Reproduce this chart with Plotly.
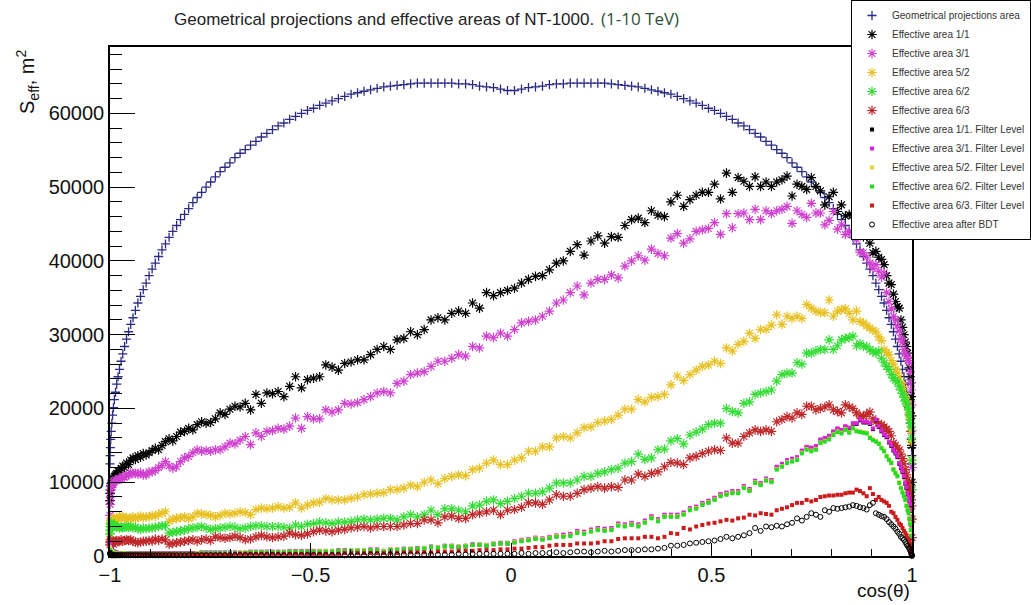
import numpy as np
import plotly.graph_objects as go

# 180 one-degree bins in theta, plotted against cos(theta) (bin centres)
theta_centres_deg = np.arange(179.5, 0.0, -1.0)
cos_theta = np.cos(np.radians(theta_centres_deg))

# ---- values, in thousands of m^2 ----
geom_area = [
    12.5, 13.6, 14.7, 15.8, 16.9, 18.0, 19.1, 20.1, 21.2, 22.2,
    23.3, 24.3, 25.3, 26.4, 27.4, 28.4, 29.4, 30.4, 31.4, 32.3,
    33.3, 34.3, 35.2, 36.1, 37.0, 38.0, 38.9, 39.7, 40.6, 41.5,
    42.3, 43.2, 44.0, 44.8, 45.6, 46.3, 47.1, 47.9, 48.6, 49.3,
    50.0, 50.7, 51.4, 52.1, 52.7, 53.3, 54.0, 54.6, 55.1, 55.7,
    56.2, 56.8, 57.3, 57.8, 58.3, 58.7, 59.2, 59.6, 60.0, 60.4,
    60.7, 61.1, 61.4, 61.7, 62.0, 62.3, 62.6, 62.8, 63.0, 63.2,
    63.4, 63.6, 63.7, 63.8, 63.9, 64.0, 64.1, 64.1, 64.1, 64.1,
    64.1, 64.1, 64.0, 64.0, 63.9, 63.7, 63.6, 63.5, 63.3, 63.1,
    63.1, 63.3, 63.5, 63.6, 63.7, 63.9, 64.0, 64.0, 64.1, 64.1,
    64.1, 64.1, 64.1, 64.1, 64.0, 63.9, 63.8, 63.7, 63.6, 63.4,
    63.2, 63.0, 62.8, 62.6, 62.3, 62.0, 61.7, 61.4, 61.1, 60.7,
    60.4, 60.0, 59.6, 59.2, 58.7, 58.3, 57.8, 57.3, 56.8, 56.2,
    55.7, 55.1, 54.6, 54.0, 53.3, 52.7, 52.1, 51.4, 50.7, 50.0,
    49.3, 48.6, 47.9, 47.1, 46.3, 45.6, 44.8, 44.0, 43.2, 42.3,
    41.5, 40.6, 39.7, 38.9, 38.0, 37.0, 36.1, 35.2, 34.3, 33.3,
    32.3, 31.4, 30.4, 29.4, 28.4, 27.4, 26.4, 25.3, 24.3, 23.3,
    22.2, 21.2, 20.1, 19.1, 18.0, 16.9, 15.8, 14.7, 13.6, 12.5,
]

eff_1_1 = [
    7.5, 8.5, 9.0, 9.5, 9.8, 10.0, 10.3, 10.5, 10.8, 11.0,
    11.2, 11.5, 11.3, 11.9, 12.2, 12.0, 12.6, 12.4, 13.0, 13.3,
    13.1, 13.6, 13.4, 13.9, 13.7, 14.0, 14.3, 14.6, 14.4, 15.0,
    15.5, 15.9, 15.6, 16.2, 16.8, 16.9, 17.3, 17.1, 17.8, 18.2,
    18.0, 18.1, 18.6, 19.4, 19.2, 19.9, 20.3, 20.2, 20.7, 19.8,
    21.9, 20.7, 22.1, 22.0, 22.3, 21.6, 23.0, 24.3, 22.8, 23.9,
    24.1, 24.3, 25.9, 25.6, 25.2, 26.1, 26.3, 26.6, 26.6, 27.3,
    28.0, 28.4, 28.0, 29.3, 29.5, 30.4, 30.0, 30.7, 32.0, 32.3,
    32.0, 32.9, 33.2, 32.9, 34.3, 33.6, 35.7, 35.3, 35.7, 36.0,
    36.3, 37.0, 37.5, 37.9, 38.0, 38.8, 39.7, 40.0, 41.3, 42.2,
    40.8, 42.7, 43.4, 42.4, 43.3, 43.2, 44.8, 45.6, 45.8, 45.2,
    46.8, 46.2, 46.0, 48.0, 48.9, 47.4, 48.3, 48.9, 49.3, 49.3,
    50.4, 48.4, 51.9, 49.3, 51.3, 50.8, 50.1, 51.4, 50.1, 50.7,
    50.1, 50.7, 51.0, 51.5, 48.8, 50.4, 50.1, 49.7, 51.3, 50.1,
    49.5, 47.6, 48.7, 49.3, 46.7, 47.6, 46.1, 46.3, 46.2, 44.9,
    44.9, 43.3, 43.3, 42.4, 41.1, 41.3, 40.5, 40.2, 39.5, 38.0,
    37.0, 36.8, 35.5, 34.5, 33.8, 33.6, 32.0, 31.0, 30.0, 29.0,
    28.4, 27.5, 26.5, 25.5, 24.3, 23.5, 21.6, 19.0, 15.0, 10.0,
]

eff_3_1 = [
    5.5, 7.0, 8.0, 9.0, 9.5, 9.3, 9.8, 10.0, 10.1, 10.3,
    10.2, 10.4, 10.5, 10.4, 10.8, 10.7, 10.9, 11.0, 11.3, 11.2,
    11.2, 11.1, 11.3, 11.0, 11.0, 11.4, 11.4, 11.6, 12.0, 12.3,
    12.8, 12.2, 11.9, 12.1, 12.8, 13.3, 13.5, 14.0, 14.4, 14.2,
    14.3, 14.2, 14.4, 14.4, 14.8, 15.3, 15.2, 15.7, 16.2, 15.1,
    16.7, 16.2, 16.9, 17.0, 17.3, 17.2, 17.6, 18.7, 17.3, 18.9,
    18.6, 18.6, 19.8, 19.5, 19.8, 20.7, 20.6, 20.8, 21.2, 21.6,
    22.1, 22.3, 22.1, 23.4, 23.7, 24.6, 24.8, 25.0, 25.7, 26.4,
    26.4, 26.8, 27.3, 27.1, 28.4, 28.2, 29.8, 29.6, 30.2, 29.8,
    30.7, 31.6, 31.8, 32.0, 32.5, 33.2, 34.3, 34.7, 35.7, 36.6,
    35.4, 37.0, 37.5, 37.5, 38.1, 37.7, 39.3, 40.0, 40.7, 40.1,
    41.6, 41.0, 40.7, 43.1, 43.7, 42.4, 43.0, 44.0, 44.2, 44.4,
    45.2, 43.6, 46.4, 44.5, 46.4, 46.5, 45.6, 47.0, 45.6, 46.8,
    46.4, 46.8, 47.0, 47.4, 45.1, 46.8, 46.3, 45.9, 47.8, 46.5,
    46.5, 44.9, 45.5, 46.7, 44.3, 44.9, 43.6, 44.0, 43.5, 42.9,
    41.2, 41.1, 40.5, 39.7, 39.0, 39.5, 38.6, 37.8, 38.4, 35.7,
    34.5, 33.5, 32.5, 32.0, 31.2, 30.5, 29.5, 29.0, 28.0, 27.5,
    27.1, 26.8, 26.5, 26.2, 25.0, 23.5, 22.5, 20.5, 17.0, 12.0,
]

eff_5_2 = [
    3.0, 4.0, 4.5, 4.8, 4.9, 5.0, 4.9, 4.8, 5.1, 4.9,
    5.2, 5.0, 5.3, 5.2, 5.3, 5.1, 5.2, 5.0, 5.1, 5.3,
    5.1, 5.2, 5.4, 5.2, 5.3, 5.3, 5.5, 5.4, 5.7, 5.8,
    6.0, 4.7, 5.0, 5.1, 5.2, 5.3, 5.1, 5.3, 5.8, 5.7,
    5.6, 5.5, 5.3, 5.5, 5.8, 5.7, 5.8, 6.0, 5.9, 5.6,
    6.3, 6.5, 6.4, 6.5, 6.7, 6.5, 6.6, 7.2, 6.5, 6.9,
    7.2, 7.3, 7.8, 7.6, 7.6, 7.6, 7.8, 8.0, 8.3, 8.4,
    8.5, 8.6, 9.0, 9.0, 9.2, 9.6, 9.4, 10.0, 10.3, 9.8,
    10.5, 10.8, 11.0, 10.9, 11.7, 11.9, 12.6, 13.0, 12.4, 12.4,
    13.0, 13.3, 14.2, 14.2, 14.8, 14.8, 16.0, 16.2, 16.0, 16.7,
    17.4, 17.5, 18.1, 18.3, 18.5, 19.1, 19.9, 19.9, 21.2, 20.9,
    21.5, 21.6, 21.9, 23.2, 24.4, 23.8, 24.6, 25.2, 25.7, 25.9,
    26.4, 26.1, 28.2, 27.8, 28.7, 29.1, 30.2, 29.5, 30.7, 30.7,
    31.3, 32.7, 31.4, 32.5, 32.2, 32.5, 32.2, 34.1, 33.6, 33.2,
    33.0, 33.0, 34.7, 32.5, 33.2, 33.4, 33.5, 32.9, 32.0, 33.2,
    31.8, 31.6, 31.2, 30.9, 30.6, 30.4, 29.7, 29.2, 28.0, 27.6,
    27.3, 26.5, 26.0, 25.3, 24.8, 24.2, 23.5, 23.0, 22.5, 21.6,
    21.0, 20.4, 19.8, 19.0, 18.5, 17.0, 15.5, 13.0, 9.0, 5.0,
]

eff_6_2 = [
    3.0, 3.5, 4.0, 4.3, 4.5, 4.3, 4.0, 4.2, 4.0, 4.1,
    3.9, 4.0, 3.8, 3.9, 3.8, 3.9, 4.0, 3.9, 4.0, 3.8,
    3.9, 3.7, 3.6, 3.8, 3.7, 3.8, 3.8, 3.9, 4.0, 4.1,
    4.1, 3.1, 3.2, 3.3, 3.4, 3.5, 3.7, 3.8, 3.9, 4.0,
    3.8, 3.6, 3.7, 3.8, 3.9, 4.0, 3.9, 3.7, 3.8, 4.0,
    4.1, 4.1, 4.0, 4.0, 4.0, 3.9, 3.8, 4.2, 4.0, 4.3,
    4.4, 4.6, 4.5, 4.4, 4.6, 4.6, 4.7, 4.9, 5.0, 4.9,
    5.0, 5.1, 5.1, 4.9, 5.3, 5.6, 5.3, 5.6, 6.2, 5.6,
    6.4, 6.4, 6.2, 6.0, 6.8, 6.9, 7.4, 7.6, 7.1, 7.4,
    7.8, 8.1, 8.5, 8.5, 8.7, 9.2, 9.9, 9.9, 9.9, 10.3,
    10.8, 10.8, 11.2, 11.4, 11.7, 11.9, 12.6, 12.8, 13.8, 13.1,
    13.3, 14.4, 14.5, 15.6, 15.9, 15.2, 16.4, 16.8, 17.2, 17.8,
    18.0, 18.0, 20.0, 19.6, 19.4, 20.7, 20.9, 21.9, 22.1, 22.3,
    22.5, 23.7, 24.6, 24.8, 24.8, 26.2, 26.0, 27.5, 27.5, 27.8,
    28.0, 28.0, 29.3, 28.0, 28.5, 29.3, 29.5, 29.6, 29.8, 28.5,
    28.8, 28.4, 28.4, 28.0, 27.7, 27.5, 27.8, 26.8, 26.2, 25.7,
    25.3, 24.6, 24.1, 23.8, 23.6, 23.0, 22.5, 22.0, 21.5, 21.0,
    20.7, 20.3, 19.8, 19.2, 18.5, 18.0, 17.5, 16.0, 13.0, 9.0,
]

eff_6_3 = [
    1.5, 1.8, 2.0, 2.2, 1.9, 1.8, 1.7, 1.6, 1.9, 2.0,
    2.1, 1.9, 2.0, 2.2, 2.0, 2.1, 2.2, 2.1, 2.2, 2.0,
    1.9, 1.8, 1.9, 2.0, 2.0, 2.1, 2.0, 2.3, 2.1, 2.3,
    2.2, 1.6, 1.7, 1.8, 1.9, 2.0, 2.1, 2.2, 2.0, 2.2,
    2.3, 2.1, 2.6, 2.5, 2.4, 2.5, 2.7, 2.5, 2.2, 2.3,
    2.6, 2.8, 2.6, 2.5, 2.6, 2.7, 3.1, 2.9, 2.8, 3.0,
    3.3, 3.5, 3.4, 3.3, 3.5, 3.6, 3.8, 3.9, 4.0, 3.8,
    4.0, 4.0, 4.0, 4.0, 4.2, 4.4, 4.4, 4.9, 4.9, 4.5,
    5.3, 5.4, 5.1, 5.1, 5.6, 5.8, 6.0, 6.2, 5.6, 6.2,
    6.3, 6.6, 7.2, 7.2, 7.0, 7.6, 8.3, 8.1, 8.1, 8.5,
    9.0, 9.2, 9.4, 9.2, 9.4, 9.3, 10.3, 10.3, 11.1, 10.8,
    11.2, 11.4, 12.1, 12.7, 12.6, 12.4, 13.3, 13.5, 13.9, 14.2,
    14.4, 14.3, 16.0, 15.3, 15.3, 16.2, 16.7, 17.1, 16.9, 17.1,
    16.9, 18.2, 18.5, 18.9, 18.7, 19.4, 19.2, 20.3, 20.3, 19.8,
    20.0, 20.2, 20.5, 19.8, 19.6, 19.4, 20.5, 20.2, 20.0, 19.4,
    19.0, 18.9, 19.2, 19.5, 18.6, 18.2, 18.0, 17.8, 17.5, 17.2,
    16.9, 16.3, 15.3, 15.0, 14.6, 14.4, 13.8, 13.2, 12.5, 11.7,
    11.0, 10.3, 9.8, 9.2, 8.7, 8.2, 7.6, 6.8, 5.0, 2.5,
]

filt_1_1 = [
    1.7, 1.4, 1.1, 0.9, 0.8, 0.7, 0.6, 0.5, 0.5, 0.4,
    0.4, 0.4, 0.4, 0.4, 0.4, 0.4, 0.4, 0.4, 0.4, 0.4,
    0.4, 0.4, 0.4, 0.4, 0.4, 0.4, 0.4, 0.4, 0.4, 0.4,
    0.4, 0.4, 0.4, 0.4, 0.4, 0.4, 0.4, 0.4, 0.4, 0.4,
    0.4, 0.4, 0.4, 0.4, 0.4, 0.4, 0.4, 0.4, 0.4, 0.5,
    0.5, 0.5, 0.5, 0.5, 0.5, 0.5, 0.6, 0.6, 0.6, 0.6,
    0.6, 0.6, 0.6, 0.6, 0.7, 0.7, 0.7, 0.7, 0.7, 0.8,
    0.8, 0.6, 0.8, 0.8, 0.9, 0.9, 1.0, 1.0, 1.2, 1.1,
    1.3, 1.3, 1.2, 1.3, 1.5, 1.5, 1.4, 1.6, 1.7, 1.7,
    1.9, 2.1, 2.2, 2.4, 2.3, 2.5, 2.7, 2.8, 2.9, 3.3,
    3.2, 3.5, 3.7, 3.6, 3.7, 4.3, 4.2, 4.4, 4.2, 4.7,
    5.3, 4.9, 5.5, 5.5, 5.5, 5.8, 6.4, 6.6, 7.1, 7.4,
    7.8, 8.3, 8.5, 8.7, 8.7, 9.4, 9.0, 10.1, 9.8, 10.4,
    10.2, 12.0, 12.4, 12.9, 13.1, 13.3, 14.2, 14.7, 14.6, 14.8,
    15.7, 15.9, 16.2, 16.8, 17.2, 17.0, 17.5, 17.3, 17.9, 17.9,
    18.4, 18.1, 18.1, 17.9, 17.2, 18.4, 17.5, 16.9, 16.4, 16.1,
    15.4, 14.9, 14.3, 13.9, 13.4, 12.5, 11.9, 11.4, 10.7, 9.8,
    9.2, 8.4, 7.9, 7.4, 6.9, 6.1, 5.1, 3.9, 2.4, 0.9,
]

filt_3_1 = [
    1.8, 1.5, 1.2, 1.0, 0.9, 0.8, 0.7, 0.6, 0.6, 0.5,
    0.5, 0.4, 0.4, 0.4, 0.4, 0.4, 0.4, 0.4, 0.4, 0.4,
    0.4, 0.4, 0.4, 0.4, 0.4, 0.4, 0.4, 0.4, 0.4, 0.4,
    0.4, 0.4, 0.4, 0.4, 0.4, 0.4, 0.4, 0.4, 0.4, 0.5,
    0.5, 0.5, 0.5, 0.5, 0.5, 0.5, 0.5, 0.5, 0.5, 0.6,
    0.6, 0.6, 0.6, 0.6, 0.6, 0.6, 0.7, 0.7, 0.7, 0.7,
    0.7, 0.7, 0.7, 0.7, 0.8, 0.8, 0.8, 0.8, 0.8, 0.9,
    0.9, 0.7, 0.9, 0.9, 1.0, 1.0, 1.1, 1.1, 1.3, 1.2,
    1.4, 1.4, 1.3, 1.4, 1.6, 1.6, 1.5, 1.7, 1.8, 1.8,
    2.0, 2.2, 2.3, 2.5, 2.4, 2.6, 2.8, 2.9, 3.0, 3.4,
    3.3, 3.6, 3.8, 3.7, 3.8, 4.4, 4.3, 4.5, 4.3, 4.8,
    5.4, 5.0, 5.6, 5.6, 5.6, 5.9, 6.5, 6.7, 7.2, 7.5,
    7.9, 8.4, 8.6, 8.8, 8.8, 9.5, 9.1, 10.2, 9.9, 10.5,
    10.3, 12.1, 12.5, 13.0, 13.2, 13.4, 14.3, 14.8, 14.7, 14.9,
    15.8, 16.0, 16.3, 16.9, 17.3, 17.1, 17.6, 17.4, 18.0, 18.0,
    18.5, 18.2, 18.2, 18.0, 17.3, 18.5, 17.6, 17.0, 16.5, 16.2,
    15.5, 15.0, 14.4, 14.0, 13.5, 12.6, 12.0, 11.5, 10.8, 9.9,
    9.3, 8.5, 8.0, 7.5, 7.0, 6.2, 5.2, 4.0, 2.5, 1.0,
]

filt_5_2 = [
    1.2, 1.0, 0.9, 0.8, 0.7, 0.6, 0.5, 0.5, 0.4, 0.4,
    0.4, 0.3, 0.3, 0.3, 0.3, 0.4, 0.3, 0.3, 0.3, 0.3,
    0.3, 0.3, 0.3, 0.3, 0.3, 0.3, 0.3, 0.3, 0.3, 0.3,
    0.3, 0.3, 0.3, 0.3, 0.3, 0.3, 0.3, 0.3, 0.4, 0.4,
    0.4, 0.4, 0.4, 0.4, 0.4, 0.4, 0.4, 0.5, 0.5, 0.5,
    0.5, 0.5, 0.5, 0.5, 0.5, 0.6, 0.6, 0.6, 0.6, 0.6,
    0.6, 0.7, 0.7, 0.7, 0.7, 0.7, 0.8, 0.8, 0.8, 0.8,
    0.8, 0.7, 0.9, 0.9, 0.9, 1.0, 1.0, 1.1, 1.2, 1.2,
    1.3, 1.4, 1.3, 1.4, 1.5, 1.6, 1.5, 1.7, 1.7, 1.8,
    1.9, 2.1, 2.2, 2.4, 2.3, 2.5, 2.7, 2.7, 2.8, 3.2,
    3.1, 3.4, 3.6, 3.5, 3.6, 4.2, 4.1, 4.3, 4.1, 4.6,
    5.2, 4.8, 5.4, 5.4, 5.4, 5.7, 6.3, 6.5, 7.0, 7.3,
    7.7, 8.2, 8.4, 8.6, 8.6, 9.3, 8.9, 10.0, 9.7, 10.3,
    10.1, 11.8, 12.2, 12.7, 12.9, 13.1, 14.0, 14.5, 14.3, 14.5,
    15.4, 15.6, 15.9, 16.5, 16.9, 16.7, 17.2, 16.8, 17.4, 17.0,
    16.9, 16.8, 16.7, 16.1, 15.8, 15.6, 15.3, 14.7, 14.3, 13.6,
    13.1, 12.7, 11.8, 11.3, 10.9, 10.0, 9.3, 8.7, 8.2, 7.7,
    6.9, 6.3, 5.9, 5.1, 4.4, 3.6, 2.8, 1.8, 0.9, 0.4,
]

filt_6_2 = [
    0.8, 0.7, 0.6, 0.5, 0.5, 0.4, 0.4, 0.4, 0.3, 0.3,
    0.3, 0.3, 0.3, 0.3, 0.3, 0.3, 0.3, 0.3, 0.3, 0.3,
    0.3, 0.3, 0.3, 0.3, 0.3, 0.3, 0.3, 0.3, 0.3, 0.3,
    0.3, 0.3, 0.3, 0.3, 0.3, 0.3, 0.3, 0.3, 0.3, 0.4,
    0.4, 0.4, 0.4, 0.4, 0.4, 0.4, 0.4, 0.4, 0.4, 0.5,
    0.5, 0.5, 0.5, 0.5, 0.5, 0.5, 0.6, 0.6, 0.6, 0.6,
    0.6, 0.6, 0.6, 0.6, 0.7, 0.7, 0.7, 0.7, 0.7, 0.8,
    0.8, 0.6, 0.8, 0.8, 0.9, 0.9, 1.0, 1.0, 1.2, 1.1,
    1.3, 1.3, 1.2, 1.3, 1.5, 1.5, 1.4, 1.6, 1.7, 1.7,
    1.8, 2.0, 2.1, 2.3, 2.2, 2.4, 2.6, 2.6, 2.7, 3.1,
    3.0, 3.3, 3.5, 3.4, 3.5, 4.1, 4.0, 4.2, 4.0, 4.5,
    5.1, 4.7, 5.3, 5.3, 5.3, 5.6, 6.2, 6.4, 6.9, 7.2,
    7.6, 8.1, 8.3, 8.5, 8.5, 9.2, 8.8, 9.9, 9.6, 10.2,
    10.0, 11.7, 12.1, 12.6, 12.8, 13.0, 13.9, 14.4, 14.2, 14.4,
    15.3, 15.5, 15.8, 16.4, 16.8, 16.6, 17.1, 16.7, 17.3, 16.9,
    16.8, 16.7, 16.6, 16.0, 15.7, 15.5, 15.2, 14.6, 14.2, 13.5,
    13.0, 12.6, 11.7, 11.2, 10.8, 9.9, 9.2, 8.6, 8.1, 7.6,
    6.8, 6.2, 5.8, 5.0, 4.3, 3.5, 2.7, 1.7, 0.8, 0.3,
]

filt_6_3 = [
    0.5, 0.4, 0.3, 0.3, 0.2, 0.2, 0.2, 0.2, 0.2, 0.2,
    0.2, 0.2, 0.2, 0.2, 0.2, 0.2, 0.2, 0.2, 0.2, 0.2,
    0.2, 0.2, 0.2, 0.2, 0.2, 0.2, 0.2, 0.2, 0.2, 0.2,
    0.2, 0.2, 0.2, 0.2, 0.2, 0.2, 0.2, 0.2, 0.2, 0.2,
    0.2, 0.2, 0.2, 0.2, 0.2, 0.2, 0.3, 0.3, 0.3, 0.3,
    0.3, 0.3, 0.3, 0.3, 0.3, 0.3, 0.3, 0.3, 0.3, 0.3,
    0.3, 0.3, 0.3, 0.3, 0.3, 0.4, 0.4, 0.4, 0.4, 0.4,
    0.4, 0.4, 0.4, 0.4, 0.5, 0.5, 0.5, 0.5, 0.5, 0.6,
    0.6, 0.6, 0.7, 0.7, 0.7, 0.8, 0.8, 0.8, 0.9, 0.9,
    1.0, 1.0, 1.1, 1.2, 1.2, 1.4, 1.5, 1.5, 1.5, 1.7,
    1.7, 1.7, 1.8, 2.0, 2.0, 2.3, 2.4, 2.4, 2.4, 2.6,
    2.6, 2.4, 2.6, 3.1, 3.0, 3.8, 3.6, 4.0, 4.2, 4.4,
    4.5, 4.7, 4.9, 4.8, 5.1, 5.2, 5.6, 5.5, 5.8, 5.7,
    5.6, 6.2, 6.4, 6.6, 6.9, 7.2, 7.2, 7.6, 7.4, 7.6,
    8.0, 8.1, 8.2, 8.2, 8.3, 8.3, 8.5, 8.6, 8.6, 9.0,
    8.8, 8.5, 8.1, 9.2, 8.4, 7.6, 8.0, 7.6, 7.4, 7.2,
    6.8, 6.0, 5.8, 5.3, 4.9, 4.4, 4.2, 3.8, 3.4, 3.1,
    2.8, 2.4, 2.2, 1.9, 1.6, 1.3, 0.9, 0.6, 0.3, 0.1,
]

after_bdt = [
    0.4, 0.3, 0.2, 0.2, 0.1, 0.1, 0.1, 0.1, 0.1, 0.1,
    0.1, 0.1, 0.1, 0.1, 0.1, 0.1, 0.1, 0.1, 0.1, 0.1,
    0.1, 0.1, 0.1, 0.1, 0.1, 0.1, 0.1, 0.1, 0.1, 0.1,
    0.1, 0.1, 0.1, 0.1, 0.1, 0.1, 0.1, 0.1, 0.1, 0.1,
    0.1, 0.1, 0.1, 0.1, 0.1, 0.1, 0.1, 0.1, 0.1, 0.1,
    0.1, 0.1, 0.1, 0.1, 0.1, 0.1, 0.1, 0.1, 0.1, 0.1,
    0.1, 0.1, 0.1, 0.1, 0.1, 0.1, 0.1, 0.1, 0.1, 0.2,
    0.2, 0.1, 0.2, 0.2, 0.2, 0.2, 0.2, 0.2, 0.2, 0.2,
    0.2, 0.2, 0.3, 0.2, 0.3, 0.3, 0.3, 0.3, 0.3, 0.3,
    0.3, 0.4, 0.3, 0.4, 0.4, 0.4, 0.5, 0.4, 0.5, 0.6,
    0.6, 0.5, 0.6, 0.7, 0.6, 0.7, 0.8, 0.8, 0.8, 0.9,
    0.9, 1.0, 1.1, 1.4, 1.4, 1.5, 1.7, 1.8, 1.9, 2.0,
    2.1, 2.3, 2.6, 2.4, 2.6, 2.8, 3.1, 3.8, 3.4, 4.0,
    3.9, 4.1, 4.0, 4.3, 4.5, 5.1, 4.8, 5.3, 5.8, 5.6,
    5.3, 6.2, 6.0, 6.5, 6.4, 6.5, 6.6, 6.7, 6.9, 6.8,
    6.6, 6.5, 6.3, 6.9, 7.2, 5.8, 5.6, 5.4, 5.3, 5.0,
    4.6, 4.3, 4.0, 3.7, 3.3, 3.0, 2.6, 2.4, 2.2, 1.9,
    1.6, 1.4, 1.2, 1.0, 0.8, 0.6, 0.4, 0.2, 0.1, 0.0,
]

x_tick_vals = [-1, -0.5, 0, 0.5, 1]
x_tick_text = ["\u22121", "\u22120.5", "0", "0.5", "1"]
y_tick_vals = [0, 10000, 20000, 30000, 40000, 50000, 60000]

series = [
    # name, values, symbol, color, size, line width
    ("Geometrical projections area", geom_area, "cross-thin", "#2b2b85", 6.5, 1.3),
    ("Effective area 1/1", eff_1_1, "asterisk", "#000000", 8, 1.2),
    ("Effective area 3/1", eff_3_1, "asterisk", "#d040d0", 8, 1.2),
    ("Effective area 5/2", eff_5_2, "asterisk", "#e8c020", 8, 1.2),
    ("Effective area 6/2", eff_6_2, "asterisk", "#33dd33", 8, 1.2),
    ("Effective area 6/3", eff_6_3, "asterisk", "#c0282a", 8, 1.2),
    ("Effective area 1/1. Filter Level", filt_1_1, "square", "#000000", 4, 0),
    ("Effective area 3/1. Filter Level", filt_3_1, "square", "#dd22dd", 4, 0),
    ("Effective area 5/2. Filter Level", filt_5_2, "square", "#e8d040", 4, 0),
    ("Effective area 6/2. Filter Level", filt_6_2, "square", "#22dd22", 4, 0),
    ("Effective area 6/3. Filter Level", filt_6_3, "square", "#cc1a1a", 4, 0),
    ("Effective area after BDT", after_bdt, "circle-open", "#000000", 5, 1.0),
]

fig = go.Figure()
for name, vals, sym, col, size, lw in series:
    fig.add_trace(go.Scatter(
        x=cos_theta,
        y=np.array(vals) * 1000.0,
        mode="markers",
        name=name,
        cliponaxis=False,
        marker=dict(symbol=sym, size=size, color=col,
                    line=dict(color=col, width=lw)),
    ))

axis_font = dict(family="Liberation Sans, Arial, sans-serif", size=20, color="#111111")

fig.update_layout(
    width=1031, height=605,
    margin=dict(l=110, r=119, t=47, b=49, autoexpand=False),
    paper_bgcolor="white", plot_bgcolor="white",
    showlegend=True,
    hovermode=False,
    legend=dict(
        x=(851 - 110) / 802, y=(556 - 0) / 509, xanchor="left", yanchor="top",
        bgcolor="white", bordercolor="black", borderwidth=1,
        font=dict(family="Liberation Sans, Arial, sans-serif", size=10, color="#333333"),
        tracegroupgap=0,
    ),
    xaxis=dict(
        range=[-1, 1], showgrid=False, zeroline=False,
        showline=True, linecolor="black", linewidth=1.5, mirror=True,
        ticks="inside", ticklen=13, tickwidth=1, tickcolor="black",
        tickmode="array", tickvals=x_tick_vals, ticktext=x_tick_text,
        minor=dict(ticks="inside", ticklen=7, tickwidth=1, tickcolor="black",
                   tickmode="linear", tick0=-1, dtick=0.1),
        tickfont=axis_font,
    ),
    yaxis=dict(
        range=[0, 69000], showgrid=False, zeroline=False,
        showline=True, linecolor="black", linewidth=1.5, mirror=True,
        ticks="inside", ticklen=25, tickwidth=1, tickcolor="black",
        tickmode="array", tickvals=y_tick_vals,
        ticktext=[str(v) for v in y_tick_vals],
        minor=dict(ticks="inside", ticklen=12, tickwidth=1, tickcolor="black",
                   tickmode="linear", tick0=0, dtick=2000),
        tickfont=axis_font,
    ),
    annotations=[
        dict(text="Geometrical projections and effective areas of NT-1000.",
             xref="paper", yref="paper", x=(172 - 110) / 802, y=(556 - 20) / 509,
             xanchor="left", yanchor="middle", showarrow=False,
             font=dict(family="Liberation Sans, Arial, sans-serif", size=17, color="#222222")),
        dict(text="(1-10 TeV)",
             xref="paper", yref="paper", x=(599 - 110) / 802, y=(556 - 18) / 509,
             xanchor="left", yanchor="middle", showarrow=False,
             font=dict(family="Open Sans, sans-serif", size=17, color="#2f4f37")),
        dict(text="S<sub>eff</sub>, m<sup>2</sup>",
             xref="paper", yref="paper", x=(27 - 110) / 802, y=(556 - 82) / 509,
             xanchor="center", yanchor="middle", textangle=-90, showarrow=False,
             font=dict(family="Liberation Sans, Arial, sans-serif", size=20, color="#111111")),
        dict(text="cos(\u03b8)",
             xref="paper", yref="paper", x=1.0, y=(556 - 590) / 509,
             xanchor="right", yanchor="middle", showarrow=False,
             font=dict(family="Liberation Sans, Arial, sans-serif", size=19, color="#111111")),
    ],
)

fig.write_html("out.html", config={"displayModeBar": False},
               post_script="document.body.style.margin='0';")
